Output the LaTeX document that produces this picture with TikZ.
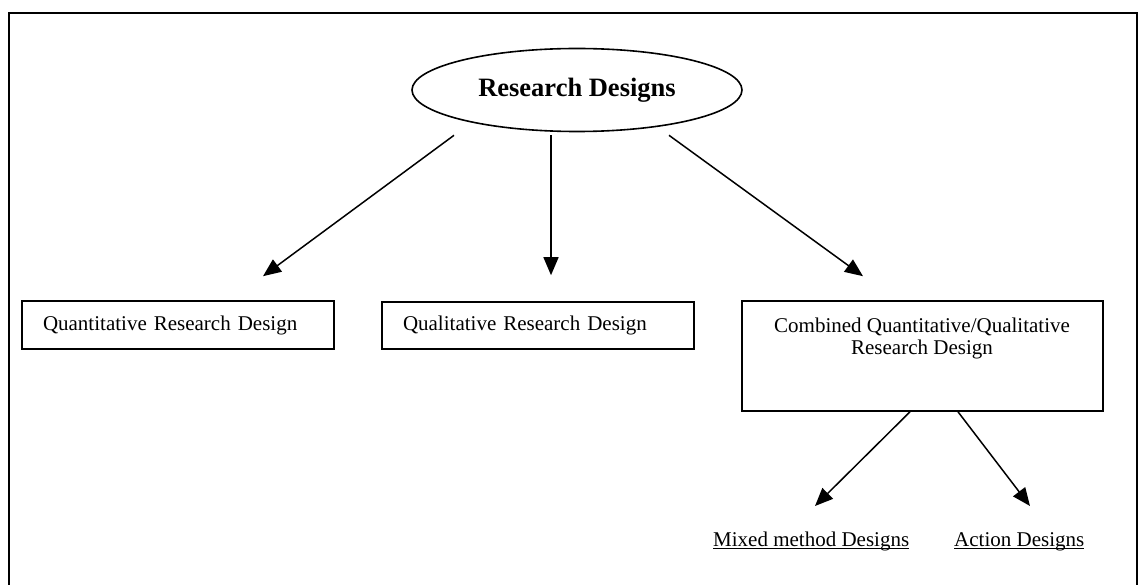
\documentclass[tikz,border=0pt]{standalone}
\usepackage{fontspec}
\setmainfont{Liberation Serif}
\usetikzlibrary{shapes.geometric,arrows.meta}
\newcommand\ulin[1]{\setbox0\hbox{#1}\rlap{\rule[-3pt]{\wd0}{1.1pt}}\box0}
\tikzset{
  boxnode/.style={draw, line width=1.6pt, inner sep=0pt},
  arr/.style={line width=1.5pt, -{Triangle[length=18pt,width=15pt]}},
  txt/.style={font=\fontsize{21}{22}\selectfont, inner sep=0pt},
}
\begin{document}
\begin{tikzpicture}[x=1pt,y=-1pt]
\useasboundingbox (0,0) rectangle (1140,585);
% frame
\draw[line width=2pt] (9,600) -- (9,13) -- (1137,13) -- (1137,600);
% root
\node[ellipse, draw, line width=1.6pt, minimum width=330pt, minimum height=83pt, inner sep=0pt,
      font=\fontsize{26.5}{28}\selectfont\bfseries] (rd) at (577,90) {Research Designs\hspace{30pt}};
% boxes
\node[boxnode, txt, minimum width=312pt, minimum height=48pt, text width=270pt, align=left] (q) at (178,325) {Quantitative Research Design};
\node[boxnode, txt, minimum width=312pt, minimum height=47pt, text width=270pt, align=left] (ql) at (538,325.5) {Qualitative Research Design};
\node[boxnode, minimum width=361pt, minimum height=110pt] (c) at (922.5,356) {};
\node[txt, align=center, anchor=base] (ct) at (922,354) {Combined Quantitative/Qualitative\\Research Design};
% leaves
\node[txt, anchor=base west] (mix) at (713,546) {\ulin{Mixed method Designs}};
\node[txt, anchor=base west] (act) at (954,546) {\ulin{Action Designs}};
% arrows
\draw[arr] ([xshift=-123pt,yshift=-3pt]rd.south) -- ([xshift=85pt,yshift=24pt]q.north);
\draw[arr] ([xshift=-26pt,yshift=-3pt]rd.south) -- ([xshift=13pt,yshift=26pt]ql.north);
\draw[arr] ([xshift=92pt,yshift=-3pt]rd.south) -- ([xshift=-59.5pt,yshift=24pt]c.north);
\draw[arr] ([xshift=-12.5pt]c.south) -- ([xshift=102pt,yshift=40pt]mix.base west);
\draw[arr] ([xshift=35.5pt]c.south) -- ([xshift=76pt,yshift=40pt]act.base west);
\end{tikzpicture}
\end{document}
